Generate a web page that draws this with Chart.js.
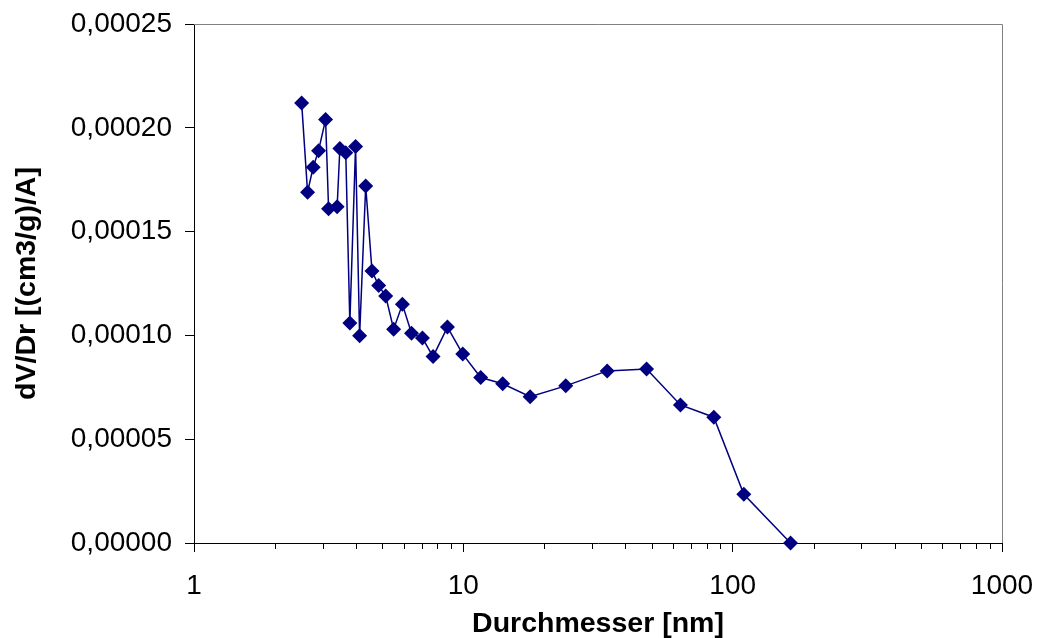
<!DOCTYPE html>
<html>
<head>
<meta charset="utf-8">
<script src="https://cdn.jsdelivr.net/npm/chart.js@4.4.1/dist/chart.umd.min.js"></script>
<style>
    body { margin: 0; background: #fff; }
</style>
</head>
<body>
<canvas id="poreChart" width="1039" height="638"></canvas>
<script>
// Data
const diameters = [2.51, 2.64, 2.77, 2.90, 3.08, 3.16, 3.40, 3.48, 3.66, 3.79, 3.98, 4.12, 4.34, 4.58, 4.85, 5.15, 5.51, 5.94, 6.42, 7.05, 7.72, 8.73, 9.95, 11.6, 14.0, 17.7, 24.0, 34.2, 47.9, 64.0, 85.1, 110, 164];
const dvdrValues = [0.000212, 0.000169, 0.000181, 0.000189, 0.000204, 0.000161, 0.000162, 0.000190, 0.000188, 0.000106, 0.000191, 0.0000998, 0.000172, 0.000131, 0.000124, 0.000119, 0.000103, 0.000115, 0.000101, 0.0000987, 0.0000898, 0.000104, 0.000091, 0.0000797, 0.0000767, 0.0000705, 0.0000757, 0.0000829, 0.0000838, 0.0000665, 0.0000606, 0.0000235, 0];
// Tick labels
const xLabelTicks = [1, 10, 100, 1000];
const yTicks = [0, 0.00005, 0.0001, 0.00015, 0.0002, 0.00025];

// every tick mark on the log axis: 1..9, 10..90, 100..900, 1000
const xAllTicks = [];
for (let d = 1; d < 1000; d *= 10) {
    for (let m = 1; m < 10; m++) xAllTicks.push(m * d);
}
xAllTicks.push(1000);

const fontFamily = "'Liberation Sans', Arial, sans-serif";

// ::::: gray frame on top/right and short minor ticks on x :::::
const frameAndMinorTicks = {
    id: 'frameAndMinorTicks',
    afterDraw(chart) {
        const { ctx, chartArea: a, scales: { x } } = chart;
        ctx.save();
        ctx.lineWidth = 1;
        ctx.strokeStyle = '#808080';
        ctx.beginPath();
        ctx.moveTo(a.left, Math.round(a.top) + 0.5);
        ctx.lineTo(Math.round(a.right) + 0.5, Math.round(a.top) + 0.5);
        ctx.lineTo(Math.round(a.right) + 0.5, a.bottom);
        ctx.stroke();

        ctx.strokeStyle = '#000';
        ctx.beginPath();
        xAllTicks.forEach(v => {
            if (xLabelTicks.includes(v)) return;
            const px = Math.round(x.getPixelForValue(v)) + 0.5;
            ctx.moveTo(px, a.bottom);
            ctx.lineTo(px, a.bottom + 6);
        });
        ctx.stroke();
        ctx.restore();
    }
};

const ctx = document.getElementById('poreChart');
const poreChart = new Chart(ctx, {
    type: 'scatter',
    data: {
        datasets: [{
            data: diameters.map((d, i) => ({ x: d, y: dvdrValues[i] })),
            showLine: true,
            borderColor: '#000080',
            backgroundColor: '#000080',
            borderWidth: 1.5,
            pointStyle: 'rectRot',
            pointRadius: 7.5,
            pointBorderWidth: 0,
            pointBackgroundColor: '#000080',
            clip: false
        }]
    },
    options: {
        responsive: false,
        animation: false,
        layout: {
            padding: { top: 24, right: 37, left: 0, bottom: 0 }
        },
        plugins: {
            legend: { display: false },
            tooltip: { enabled: false }
        },
        scales: {
            x: {
                type: 'logarithmic',
                min: 1,
                max: 1000,
                afterBuildTicks: scale => {
                    scale.ticks = xAllTicks.map(v => ({ value: v }));
                },
                afterFit: scale => {
                    scale.height = 95;
                    scale.paddingLeft = 0;
                    scale.paddingRight = 0;
                },
                border: { color: '#000', width: 1 },
                grid: {
                    drawOnChartArea: false,
                    drawTicks: true,
                    tickLength: 9,
                    tickColor: c => (c.tick && xLabelTicks.includes(c.tick.value)) ? '#000' : 'rgba(0,0,0,0)'
                },
                ticks: {
                    autoSkip: false,
                    maxRotation: 0,
                    padding: 17,
                    color: '#000',
                    font: { family: fontFamily, size: 28 },
                    callback: v => xLabelTicks.includes(v) ? String(v) : ''
                },
                title: {
                    display: true,
                    text: 'Durchmesser [nm]',
                    color: '#000',
                    font: { family: fontFamily, size: 28.5, weight: 'bold', lineHeight: 1 },
                    padding: { top: 0, bottom: 0 }
                }
            },
            y: {
                min: 0,
                max: 0.00025,
                afterBuildTicks: scale => {
                    scale.ticks = yTicks.map(v => ({ value: v }));
                },
                afterFit: scale => {
                    scale.width = 194;
                    scale.paddingTop = 0;
                    scale.paddingBottom = 0;
                },
                border: { color: '#000', width: 1 },
                grid: {
                    drawOnChartArea: false,
                    drawTicks: true,
                    tickLength: 9,
                    tickColor: '#000'
                },
                ticks: {
                    padding: 13,
                    color: '#000',
                    font: { family: fontFamily, size: 28 },
                    callback: v => v.toFixed(5).replace('.', ',')
                },
                title: {
                    display: true,
                    text: 'dV/Dr [(cm3/g)/A]',
                    color: '#000',
                    font: { family: fontFamily, size: 28.5, weight: 'bold', lineHeight: 1 },
                    padding: { top: 13, bottom: 0 }
                }
            }
        }
    },
    plugins: [frameAndMinorTicks]
});
</script>
</body>
</html>
